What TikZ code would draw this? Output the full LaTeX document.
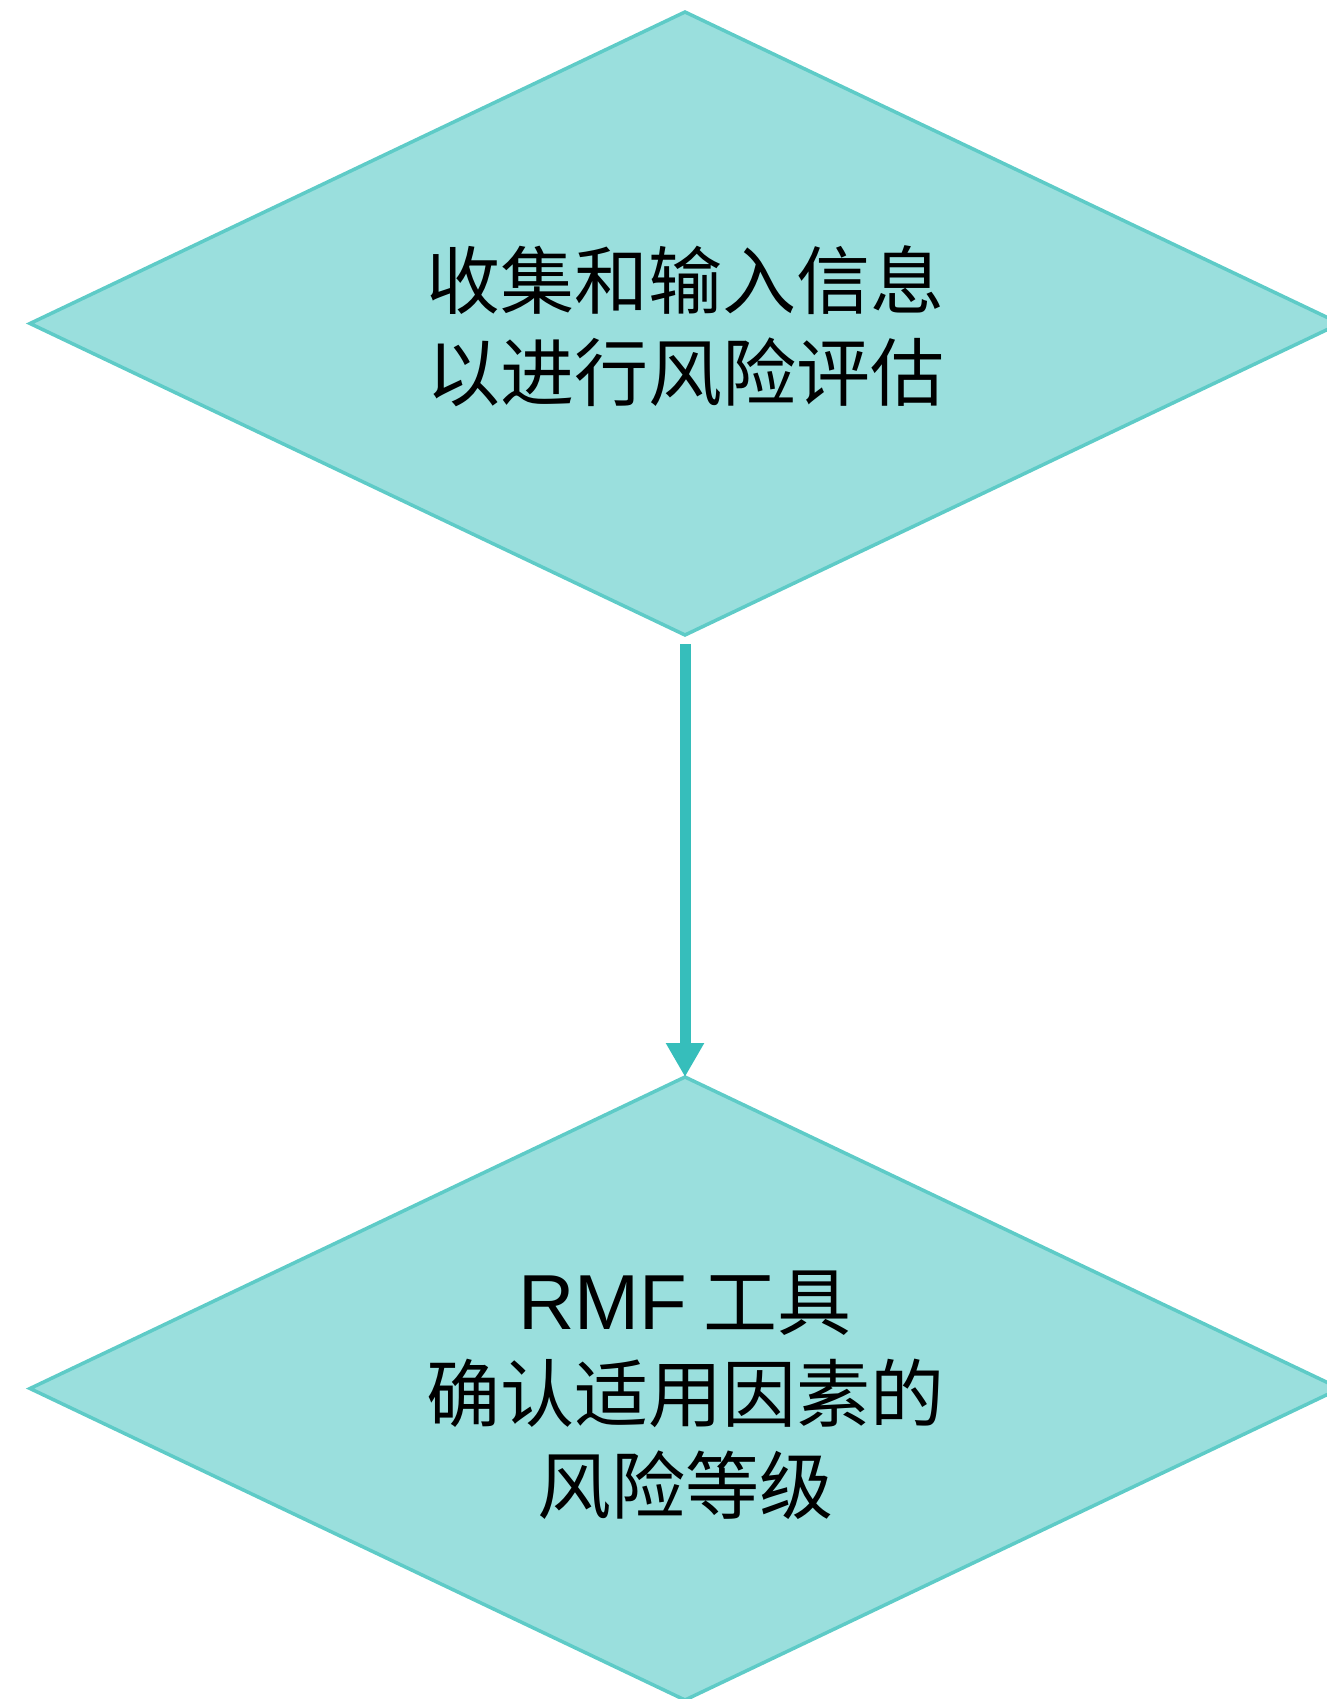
\documentclass[tikz,border=0pt]{standalone}
\usepackage{fontspec}
\setmainfont{Liberation Sans}
\newfontfamily\cjk{Noto Sans CJK SC}
\usetikzlibrary{shapes.geometric,arrows.meta}
\definecolor{dfill}{RGB}{154,223,221}
\definecolor{dline}{RGB}{94,203,199}
\definecolor{arr}{RGB}{54,190,187}
\tikzset{
  decision/.style={diamond, draw=dline, line width=3.5pt, fill=dfill,
    minimum width=1310pt, minimum height=623pt, inner sep=0pt, outer sep=0pt},
  label text/.style={align=center, inner sep=0pt,
    font=\fontsize{74}{92}\selectfont\cjk},
  flow/.style={draw=arr, line width=11pt, -{Triangle[width=36pt,length=34pt]}, arr}
}
\begin{document}
\begin{tikzpicture}[x=1pt,y=-1pt]
\useasboundingbox (0,0) rectangle (1327,1699);
\clip (0,0) rectangle (1327,1699);
\node[decision] (top) at (685,323.5) {};
\node[decision] (bot) at (685,1388.5) {};
\node[label text] (toptext) at ([yshift=-3pt]top.center) {收集和输入信息\\以进行风险评估};
\node[label text] (bottext) at ([yshift=-7pt]bot.center) {{\fontsize{78}{92}\selectfont\rmfamily RMF} 工具\\确认适用因素的\\风险等级};
\draw[flow, shorten <=9pt] (top.south) -- (bot.north);
\end{tikzpicture}
\end{document}
